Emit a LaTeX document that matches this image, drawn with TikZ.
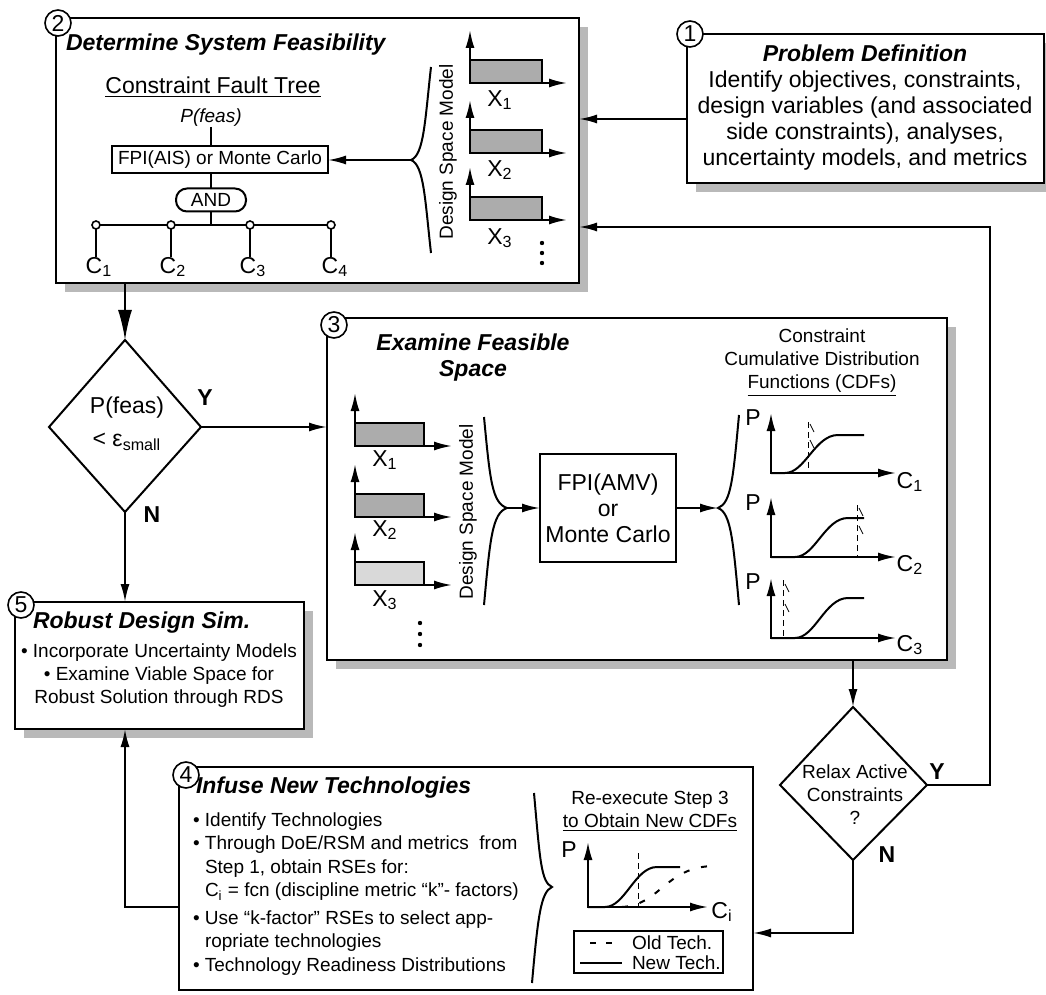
\documentclass[tikz,border=0pt]{standalone}
\usepackage{fontspec}
\setmainfont{Liberation Sans}
\usetikzlibrary{arrows.meta,calc}

\newcommand{\bigtxt}{\fontsize{11.5}{13}\selectfont}
\newcommand{\smltxt}{\fontsize{9.5}{11.5}\selectfont}

\begin{document}
\begin{tikzpicture}[x=0.5pt,y=-0.5pt]
\tikzset{ >={Latex[length=9pt,width=4.5pt]}, inner sep=0pt, outer sep=0pt,
  wire/.style={line width=1pt},
  shdw/.style={fill=gray!55},
  boxline/.style={draw, line width=1pt, fill=white},
  num/.style={draw, circle, line width=0.8pt, fill=white, minimum size=13pt, font=\bigtxt},
  ttl/.style={font=\bigtxt\bfseries\itshape},
  darkbar/.style={draw, line width=0.8pt, fill=gray!65},
  lightbar/.style={draw, line width=0.8pt, fill=gray!30},
  lim/.style={line width=0.4pt, densely dashed},
  vdot/.style={fill=black, circle, minimum size=2.2pt},
  knot/.style={draw, circle, line width=0.8pt, fill=white, minimum size=4pt},
}

\useasboundingbox (0,0) rectangle (1046,995);

%%% Blocks

% 2 - system feasibility
\coordinate (B20) at (56,18);
\coordinate (B21) at (579,283);
\fill[shdw] ($(B20)+(9,9)$) rectangle ($(B21)+(9,9)$);
\draw[boxline] (B20) rectangle (B21);
\node[num] (N2) at (58,23) {2};
\node[ttl, anchor=west] (T2) at (66,45) {Determine System Feasibility};

% fault tree
\node[font=\bigtxt] (CFT) at (213,87) {\underline{Constraint Fault Tree}};
\node[font=\smltxt\itshape] (Pf) at (211,118) {P(feas)};
\node[draw, wire, font=\smltxt, minimum width=108pt, minimum height=13.5pt] (FPIa) at (220,160) {FPI(AIS) or Monte Carlo};
\node[draw, wire, rounded corners=5.5pt, font=\smltxt, minimum width=35pt, minimum height=11.5pt] (AND) at (211,200) {AND};
\coordinate (Tj) at (211,225);
\node[knot] (K1) at (96,225) {};
\node[knot] (K2) at (171,225) {};
\node[knot] (K3) at (250,225) {};
\node[knot] (K4) at (331,225) {};
\node[font=\bigtxt] (C1) at (99,267) {C\textsubscript{1}};
\node[font=\bigtxt] (C2) at (173,267) {C\textsubscript{2}};
\node[font=\bigtxt] (C3) at (253,267) {C\textsubscript{3}};
\node[font=\bigtxt] (C4) at (335,267) {C\textsubscript{4}};
\draw[wire] (Pf) -- (Pf |- FPIa.north);
\draw[wire] (FPIa.south -| AND) -- (AND);
\draw[wire] (AND) -- (Tj);
\draw[wire] (K1) -- (K2) -- (K3) -- (K4);
\draw[wire] (K1) -- (K1 |- C1.north);
\draw[wire] (K2) -- (K2 |- C2.north);
\draw[wire] (K3) -- (K3 |- C3.north);
\draw[wire] (K4) -- (K4 |- C4.north);

% design space model (box 2)
\coordinate (Br2) at (411,160);
\draw[wire] (431,67) .. controls (425,120) and (424,155) .. (Br2) .. controls (424,165) and (425,200) .. (431,253);
\draw[wire, ->] (Br2) -- (FPIa);
\node[font=\smltxt, rotate=90] (DSM2) at (448,152) {Design Space Model};
\draw[darkbar] (470,60) rectangle (542,83);
\draw[wire, <->] (470,30) -- (470,83) -- (567,83);
\node[font=\bigtxt] (X1a) at (500,100) {X\textsubscript{1}};
\draw[darkbar] (470,130) rectangle (542,153);
\draw[wire, <->] (470,100) -- (470,153) -- (567,153);
\node[font=\bigtxt] (X2a) at (500,170) {X\textsubscript{2}};
\draw[darkbar] (470,197) rectangle (542,220);
\draw[wire, <->] (470,167) -- (470,220) -- (567,220);
\node[font=\bigtxt] (X3a) at (500,238) {X\textsubscript{3}};
\node[vdot] (d21) at (542,243) {};
\node[vdot] (d22) at (542,253) {};
\node[vdot] (d23) at (542,263) {};

% 1 - problem definition
\coordinate (B10) at (687,34);
\coordinate (B11) at (1044,183);
\fill[shdw] ($(B10)+(9,9)$) rectangle ($(B11)+(9,9)$);
\draw[boxline] (B10) rectangle (B11);
\node[num] (N1) at (690,34) {1};
\node[font=\bigtxt, align=center] (PD) at (865,108) {\textbf{\textit{Problem Definition}}\\Identify objectives, constraints,\\design variables (and associated\\side constraints), analyses,\\uncertainty models, and metrics};

% 3 - feasible space
\coordinate (B30) at (327,318);
\coordinate (B31) at (947,660);
\fill[shdw] ($(B30)+(9,9)$) rectangle ($(B31)+(9,9)$);
\draw[boxline] (B30) rectangle (B31);
\node[num] (N3) at (334,325) {3};
\node[ttl, align=center] (T3) at (473,358) {Examine Feasible\\Space};
\node[font=\smltxt, align=center] (CDFt) at (822,363) {Constraint\\Cumulative Distribution\\\underline{Functions (CDFs)}};

% design space model (box 3)
\draw[darkbar] (355,423) rectangle (424,446);
\draw[wire, <->] (355,393) -- (355,446) -- (452,446);
\node[font=\bigtxt] (X1b) at (385,460) {X\textsubscript{1}};
\draw[darkbar] (355,494) rectangle (424,517);
\draw[wire, <->] (355,464) -- (355,517) -- (452,517);
\node[font=\bigtxt] (X2b) at (385,530) {X\textsubscript{2}};
\draw[lightbar] (355,562) rectangle (424,585);
\draw[wire, <->] (355,532) -- (355,585) -- (452,585);
\node[font=\bigtxt] (X3b) at (385,600) {X\textsubscript{3}};
\node[vdot] (d31) at (420,623) {};
\node[vdot] (d32) at (420,634) {};
\node[vdot] (d33) at (420,645) {};
\node[font=\smltxt, rotate=90] (DSM3) at (468,512) {Design Space Model};
\coordinate (Bl3) at (507,508);
\draw[wire] (484,417) .. controls (490,480) and (492,503) .. (Bl3) .. controls (492,513) and (490,540) .. (484,605);
\node[draw, wire, font=\bigtxt, align=center, minimum width=68pt, minimum height=54pt] (FPIb) at (608,508) {FPI(AMV)\\or\\Monte Carlo};
\coordinate (Br3) at (718,508);
\draw[wire] (739,415) .. controls (733,480) and (731,503) .. (Br3) .. controls (731,513) and (733,540) .. (739,605);
\draw[wire, ->] (Bl3) -- (FPIb);
\draw[wire, ->] (FPIb) -- (Br3);

% CDF plots
\draw[wire, <->] (771,413) -- (771,473) -- (896,473);
\draw[wire] (771,473) -- (785,473) .. controls (805,473) and (815,435) .. (838,435) -- (864,435);
\draw[lim] (808,422) -- (808,473);
\draw[line width=0.4pt] (810,424) -- (814,432) (810,440) -- (814,448);
\node[font=\bigtxt] (P1) at (753,418) {P};
\node[font=\bigtxt] (Cc1) at (910,482) {C\textsubscript{1}};
\draw[wire, <->] (771,497) -- (771,557) -- (896,557);
\draw[wire] (771,557) -- (795,557) .. controls (815,557) and (825,518) .. (848,518) -- (864,518);
\draw[lim] (857,505) -- (857,557);
\draw[line width=0.4pt] (859,508) -- (863,516) (859,526) -- (863,534);
\node[font=\bigtxt] (P2) at (753,503) {P};
\node[font=\bigtxt] (Cc2) at (910,565) {C\textsubscript{2}};
\draw[wire, <->] (771,578) -- (771,638) -- (896,638);
\draw[wire] (771,638) -- (795,638) .. controls (815,638) and (825,598) .. (848,598) -- (864,598);
\draw[lim] (783,580) -- (783,638);
\draw[line width=0.4pt] (785,584) -- (789,592) (785,604) -- (789,612);
\node[font=\bigtxt] (P3) at (753,582) {P};
\node[font=\bigtxt] (Cc3) at (910,645) {C\textsubscript{3}};

% feasibility check
\coordinate (D1t) at (125,340);
\coordinate (D1r) at (201,427);
\coordinate (D1b) at (125,512);
\coordinate (D1l) at (49,427);
\draw[wire] (D1t) -- (D1r) -- (D1b) -- (D1l) -- cycle;
\node[font=\bigtxt] (Pf2) at (127,408) {P(feas)};
\node[font=\bigtxt] (eps) at (127,442) {< ε\textsubscript{small}};
\node[font=\bigtxt\bfseries] (lblY1) at (205,398) {Y};
\node[font=\bigtxt\bfseries] (lblN1) at (152,515) {N};

% relax constraints
\coordinate (R2t) at (853,707);
\coordinate (R2r) at (927,785);
\coordinate (R2b) at (853,860);
\coordinate (R2l) at (780,785);
\draw[wire] (R2t) -- (R2r) -- (R2b) -- (R2l) -- cycle;
\node[font=\smltxt, align=center] (RAC) at (855,795) {Relax Active\\Constraints\\?};
\node[font=\bigtxt\bfseries] (lblY2) at (937,772) {Y};
\node[font=\bigtxt\bfseries] (lblN2) at (887,855) {N};

% 5 - robust design
\coordinate (B50) at (15,602);
\coordinate (B51) at (304,729);
\fill[shdw] ($(B50)+(9,9)$) rectangle ($(B51)+(9,9)$);
\draw[boxline] (B50) rectangle (B51);
\node[num] (N5) at (21,605) {5};
\node[ttl, anchor=west] (T5) at (33,623) {Robust Design Sim.};
\node[font=\smltxt, align=center] (RDS) at (159,676) {• Incorporate Uncertainty Models\\• Examine Viable Space for\\Robust Solution through RDS};

% 4 - new technologies
\coordinate (B40) at (179,767);
\coordinate (B41) at (753,990);
\draw[boxline] (B40) rectangle (B41);
\node[num] (N4) at (186,775) {4};
\node[ttl, anchor=west] (T4) at (196,788) {Infuse New Technologies};
\node[font=\smltxt, anchor=west] (L1) at (193,822) {• Identify Technologies};
\node[font=\smltxt, anchor=west] (L2) at (193,845) {• Through DoE/RSM and metrics \ from};
\node[font=\smltxt, anchor=west] (L3) at (205,869) {Step 1, obtain RSEs for:};
\node[font=\smltxt, anchor=west] (L4) at (205,892) {C\textsubscript{i} = fcn (discipline metric “k”- factors)};
\node[font=\smltxt, anchor=west] (L5) at (193,920) {• Use “k-factor” RSEs to select app-};
\node[font=\smltxt, anchor=west] (L6) at (205,943) {ropriate technologies};
\node[font=\smltxt, anchor=west] (L7) at (193,967) {• Technology Readiness Distributions};
\coordinate (Br4) at (552,887);
\draw[wire] (534,793) .. controls (540,860) and (541,882) .. (Br4) .. controls (541,892) and (538,915) .. (532,983);
\node[font=\smltxt, align=center] (RX) at (650,811) {Re-execute Step 3\\\underline{to Obtain New CDFs}};
\draw[wire, <->] (588,842) -- (588,907) -- (708,907);
\draw[wire] (588,907) -- (605,907) .. controls (625,907) and (635,867) .. (657,867) -- (680,867);
\draw[wire, dash pattern=on 3pt off 6pt] (622,907) .. controls (660,905) and (665,868) .. (712,866);
\draw[lim] (638,853) -- (638,907);
\node[font=\bigtxt] (P4) at (569,850) {P};
\node[font=\bigtxt] (Ci) at (722,912) {C\textsubscript{i}};
\draw[line width=0.8pt] (574,931) rectangle (723,973);
\draw[line width=0.8pt, dash pattern=on 3pt off 5pt] (590,943) -- (616,943);
\draw[line width=0.8pt] (580,963) -- (622,963);
\node[font=\smltxt, anchor=west] (OT) at (632,943) {Old Tech.};
\node[font=\smltxt, anchor=west] (NT) at (632,963) {New Tech.};

%%% Lines

% 1 -> 2
\coordinate (P1out) at (687,119);
\coordinate (P2in) at (579,119);
\draw[wire, ->] (P1out) -- (P2in);

% 2 -> feasibility check
\coordinate (B2out) at (125,283);
\draw[wire, -{Latex[length=15pt,width=7pt]}] (B2out) -- (D1t);

% Y -> 3, N -> 5
\coordinate (B3in) at (327,427);
\draw[wire, ->] (D1r) -- (B3in);
\coordinate (B5in) at (125,602);
\draw[wire, ->] (D1b) -- (B5in);

% 3 -> relax
\coordinate (B3out) at (853,660);
\draw[wire, ->] (B3out) -- (R2t);

% relax Y -> 2
\coordinate (Fc) at (990,785);
\coordinate (F2in) at (579,227);
\draw[wire, ->] (R2r) -- (Fc) |- (F2in);

% relax N -> 4
\coordinate (Nc) at (853,933);
\coordinate (B4in) at (753,933);
\draw[wire, ->] (R2b) -- (Nc) -- (B4in);

% 4 -> 5
\coordinate (B4out) at (179,907);
\coordinate (Lc) at (125,907);
\coordinate (B5out) at (125,729);
\draw[wire, ->] (B4out) -- (Lc) -- (B5out);

\end{tikzpicture}
\end{document}
